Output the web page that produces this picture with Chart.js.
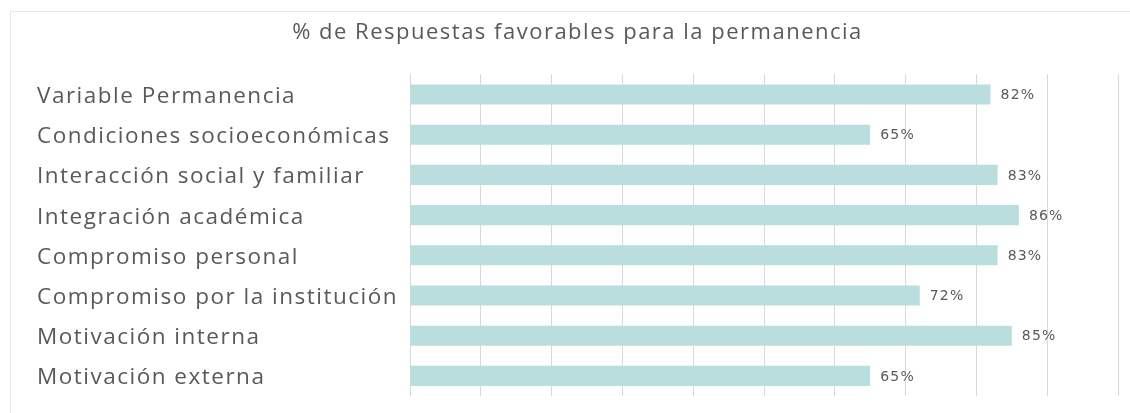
<!DOCTYPE html>
<html>
<head>
<meta charset="utf-8">
<script src="https://cdn.jsdelivr.net/npm/chart.js@4.4.1/dist/chart.umd.min.js"></script>
<style>
  html, body { margin: 0; padding: 0; background: #fff; }
  #frame {
    position: absolute; left: 10px; top: 11px; width: 1200px; height: 500px;
    border: 1px solid #e6e6e6; box-sizing: border-box;
  }
  #chart { position: absolute; left: 0; top: 0; }
</style>
</head>
<body>
<div id="frame"></div>
<canvas id="chart" width="1130" height="413"></canvas>
<script>
const titleText = '% de Respuestas favorables para la permanencia';

const categories = [
	'Variable Permanencia',
	'Condiciones socioeconómicas',
	'Interacción social y familiar',
	'Integración académica',
	'Compromiso personal',
	'Compromiso por la institución',
	'Motivación interna',
	'Motivación externa'
];

const favorable = [ 82, 65, 83, 86, 83, 72, 85, 65 ];

const axisMin = 0;
const axisMax = 100;
const axisStep = 10;

const textGray = '#595959';

// the original text is a bit wider, a little letter spacing gets close
const spacing = {
	id: 'spacing',
	beforeLayout( chart ) { chart.ctx.letterSpacing = '1.5px'; },
	beforeDraw( chart ) { chart.ctx.letterSpacing = '1.5px'; }
};

// value labels to the right of each bar
const valueLabels = {
	id: 'valueLabels',
	afterDatasetsDraw( chart ) {
		const ctx = chart.ctx;
		const meta = chart.getDatasetMeta( 0 );
		ctx.save();
		ctx.letterSpacing = '1.2px';
		ctx.font = '14px "DejaVu Sans"';
		ctx.fillStyle = textGray;
		ctx.textAlign = 'left';
		ctx.textBaseline = 'middle';
		meta.data.forEach( ( bar, i ) => {
			ctx.fillText( favorable[ i ] + '%', bar.x + 10, bar.y + 1 );
		} );
		ctx.restore();
	}
};

new Chart( document.getElementById( 'chart' ), {
	type: 'bar',
	data: {
		labels: categories,
		datasets: [ {
			data: favorable,
			backgroundColor: '#badede',
			borderWidth: 0,
			categoryPercentage: 1,
			barPercentage: 0.5
		} ]
	},
	options: {
		indexAxis: 'y',
		responsive: false,
		animation: false,
		layout: { padding: { left: 37, right: 12, top: 0, bottom: 17 } },
		plugins: {
			legend: { display: false },
			tooltip: { enabled: false },
			title: {
				display: true,
				text: titleText,
				color: textGray,
				font: { family: 'Open Sans', size: 22, weight: 'normal' },
				padding: { top: 20, bottom: 28 }
			}
		},
		scales: {
			x: {
				min: axisMin,
				max: axisMax,
				ticks: { display: false, stepSize: axisStep },
				grid: { color: '#d9d9d9', drawTicks: false, lineWidth: 1 },
				border: { display: false }
			},
			y: {
				grid: { display: false, drawTicks: false },
				border: { display: false },
				ticks: {
					color: textGray,
					crossAlign: 'far',
					padding: 0,
					labelOffset: 2,
					font: { family: 'Open Sans', size: 22.5 }
				},
				afterFit( scale ) { scale.width = 373; }
			}
		}
	},
	plugins: [ spacing, valueLabels ]
} );
</script>
</body>
</html>
